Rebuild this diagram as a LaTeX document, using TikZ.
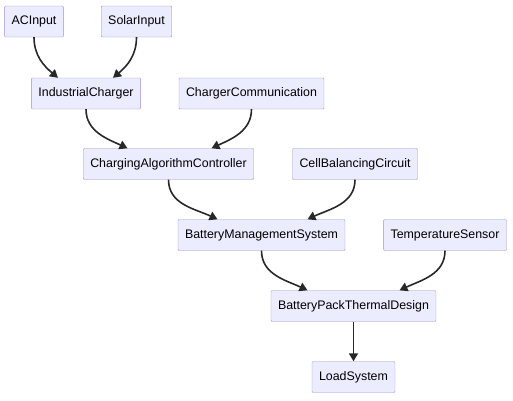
\documentclass[tikz,border=0pt]{standalone}
\usepackage{fontspec}
\setmainfont{Liberation Sans}
\usetikzlibrary{arrows.meta}
\definecolor{boxfill}{RGB}{236,236,255}
\definecolor{boxline}{RGB}{160,140,210}
\definecolor{edgecol}{RGB}{40,40,40}
\tikzset{
  block/.style={draw=boxline, fill=boxfill, minimum height=31pt, inner xsep=7pt, rounded corners=1pt, font=\fontsize{12.4}{14}\selectfont},
  link/.style={-{Triangle[length=8pt, width=9pt]}, line width=1.6pt, draw=edgecol},
}
\begin{document}
\begin{tikzpicture}[x=1pt, y=1pt]
  \useasboundingbox (0,0) rectangle (513,-400);

  % Entrées
  \node[block] (acin) at (34,-21.5) {ACInput};
  \node[block] (solarin) at (136.5,-21.5) {SolarInput};

  % Chargeur
  \node[block] (charger) at (86,-93.5) {IndustrialCharger};
  \node[block] (chargercom) at (251.5,-93.5) {ChargerCommunication};
  \node[block] (algo) at (168.5,-164) {ChargingAlgorithmController};
  \node[block] (balancing) at (355,-164) {CellBalancingCircuit};

  % Batterie
  \node[block] (bms) at (261.5,-235) {BatteryManagementSystem};
  \node[block] (tempsensor) at (445,-235) {TemperatureSensor};
  \node[block] (thermal) at (353.5,-306) {BatteryPackThermalDesign};
  \node[block] (load) at (353.5,-377) {LoadSystem};

  % Flèches
  \draw[link] (acin.south) to[out=-90, in=140] ([xshift=-28pt]charger.north);
  \draw[link] (solarin.south) to[out=-90, in=40] ([xshift=27pt]charger.north);
  \draw[link] (charger.south) to[out=-90, in=155] ([xshift=-41pt]algo.north);
  \draw[link] (chargercom.south) to[out=-90, in=25] ([xshift=43pt]algo.north);
  \draw[link] (algo.south) to[out=-90, in=155] ([xshift=-44pt]bms.north);
  \draw[link] (balancing.south) to[out=-90, in=25] ([xshift=46pt]bms.north);
  \draw[link] (bms.south) to[out=-90, in=155] ([xshift=-46pt]thermal.north);
  \draw[link] (tempsensor.south) to[out=-90, in=25] ([xshift=46pt]thermal.north);
  \draw[link] (thermal) -- (load);
\end{tikzpicture}
\end{document}
